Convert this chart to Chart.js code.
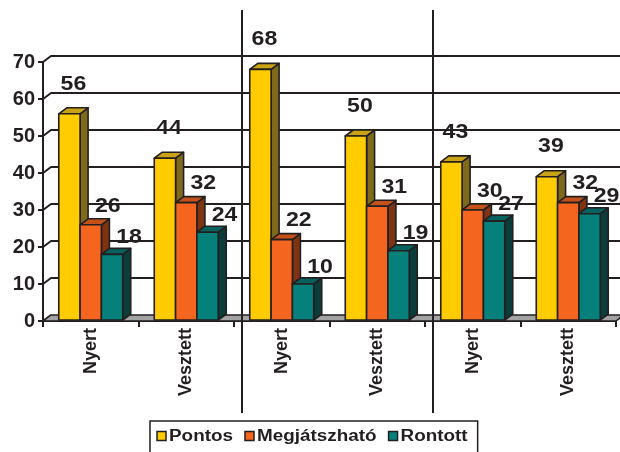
<!DOCTYPE html>
<html><head><meta charset="utf-8">
<script src="https://cdn.jsdelivr.net/npm/chart.js@4/dist/chart.umd.min.js"></script>
<style>html,body{margin:0;padding:0;background:#fff}canvas{display:block}</style>
</head><body>
<canvas id="c" width="620" height="452"></canvas>
<script>
// ---- data ----
const categories = ['Nyert', 'Vesztett', 'Nyert', 'Vesztett', 'Nyert', 'Vesztett'];
const seriesNames = ['Pontos', 'Megjátszható', 'Rontott'];
const pontos = [56, 44, 68, 50, 43, 39];
const megjatszhato = [26, 32, 22, 31, 30, 32];
const rontott = [18, 24, 10, 19, 27, 29];
const yTicks = [0, 10, 20, 30, 40, 50, 60, 70];
const groupBreaks = [2, 4]; // a separator line sits before these category indexes

// ---- styles ----
const FONT = '"Liberation Sans", Arial, sans-serif';
const INK = '#231f20';
const DEPTH = { dx: 8, dy: 6 };
const faces = [
  { front: '#FFCC00', top: '#C9A216', side: '#7F6A1C' },
  { front: '#F4661F', top: '#C4511A', side: '#7E3312' },
  { front: '#06807B', top: '#05625E', side: '#0B3D3B' }
];
const labelShift = [{ dx: 4, dy: -30 }, { dx: 17, dy: -19 }, { dx: 17, dy: -17 }];

function poly(ctx, pts, fill) {
  ctx.beginPath();
  ctx.moveTo(pts[0][0], pts[0][1]);
  for (let i = 1; i < pts.length; i++) ctx.lineTo(pts[i][0], pts[i][1]);
  ctx.closePath();
  ctx.fillStyle = fill;
  ctx.fill();
  ctx.stroke();
}

const threeD = {
  id: 'threeD',
  beforeDatasetsDraw(chart) {
    const ctx = chart.ctx, ca = chart.chartArea, ys = chart.scales.y;
    const { dx, dy } = DEPTH;
    ctx.save();
    ctx.strokeStyle = INK;
    ctx.lineWidth = 2;
    ctx.lineJoin = 'round';
    yTicks.forEach(v => {
      const py = ys.getPixelForValue(v);
      ctx.beginPath();
      ctx.moveTo(ca.left, py);
      ctx.lineTo(ca.left + dx, py - dy);
      if (v > 0) ctx.lineTo(chart.width + 5, py - dy);
      ctx.stroke();
    });
    const b = ys.getPixelForValue(0);
    ctx.lineWidth = 1.5;
    poly(ctx, [[ca.left, b], [ca.right, b], [ca.right + dx, b - dy], [ca.left + dx, b - dy]], '#A3A3A3');
    ctx.restore();
  },
  afterDatasetsDraw(chart) {
    const ctx = chart.ctx;
    const { dx, dy } = DEPTH;
    const metas = chart.data.datasets.map((d, i) => chart.getDatasetMeta(i));
    ctx.save();
    ctx.strokeStyle = INK;
    ctx.lineWidth = 1.6;
    ctx.lineJoin = 'round';
    for (let i = 0; i < categories.length; i++) {
      metas.forEach((m, di) => {
        const el = m.data[i];
        const p = el.getProps(['x', 'y', 'base', 'width'], true);
        const l = p.x - p.width / 2, r = p.x + p.width / 2, t = p.y, b = p.base;
        const f = faces[di];
        poly(ctx, [[r, b], [r + dx, b - dy], [r + dx, t - dy], [r, t]], f.side);
        poly(ctx, [[l, t], [r, t], [r + dx, t - dy], [l + dx, t - dy]], f.top);
        poly(ctx, [[l, t], [r, t], [r, b], [l, b]], f.front);
      });
    }
    // value labels
    ctx.fillStyle = INK;
    ctx.font = 'bold 21px ' + FONT;
    ctx.textAlign = 'center';
    ctx.textBaseline = 'middle';
    metas.forEach((m, di) => {
      const vals = chart.data.datasets[di].data;
      m.data.forEach((el, i) => {
        const p = el.getProps(['x', 'y'], true);
        ctx.save();
        ctx.translate(p.x + labelShift[di].dx, p.y + labelShift[di].dy);
        ctx.scale(1.1, 1);
        ctx.fillText(String(vals[i]), 0, 0);
        ctx.restore();
      });
    });
    ctx.restore();
  },
  afterDraw(chart) {
    const ctx = chart.ctx, xs = chart.scales.x;
    const { dx } = DEPTH;
    ctx.save();
    ctx.strokeStyle = INK;
    ctx.lineWidth = 2;
    groupBreaks.forEach(k => {
      const px = (xs.getPixelForValue(k - 1) + xs.getPixelForValue(k)) / 2 + dx;
      ctx.beginPath();
      ctx.moveTo(px, 10);
      ctx.lineTo(px, 413);
      ctx.stroke();
    });
    // legend
    const sx = 1.18, sw = 9, gapS = 3, gapI = 12, padL = 7, padR = 10;
    ctx.font = 'bold 16px ' + FONT;
    const widths = seriesNames.map(n => ctx.measureText(n).width * sx);
    let total = padL + padR;
    widths.forEach((w, i) => { total += sw + gapS + w + (i < widths.length - 1 ? gapI : 0); });
    const left = Math.round(chart.width / 2 + 4 - total / 2);
    const top = 421, cy = 436;
    ctx.lineWidth = 1.5;
    ctx.strokeRect(left, top, total, 40);
    let x = left + padL;
    ctx.textBaseline = 'middle';
    ctx.textAlign = 'left';
    seriesNames.forEach((n, i) => {
      ctx.fillStyle = faces[i].front;
      ctx.fillRect(x, cy - 4.5, sw, sw);
      ctx.strokeRect(x, cy - 4.5, sw, sw);
      x += sw + gapS;
      ctx.save();
      ctx.translate(x, cy);
      ctx.scale(sx, 1);
      ctx.fillStyle = INK;
      ctx.fillText(n, 0, 1);
      ctx.restore();
      x += widths[i] + gapI;
    });
    ctx.restore();
  }
};

const seriesData = [pontos, megjatszhato, rontott];
new Chart(document.getElementById('c'), {
  type: 'bar',
  data: {
    labels: categories,
    datasets: seriesNames.map((n, i) => ({
      label: n,
      data: seriesData[i],
      backgroundColor: faces[i].front,
      borderColor: INK,
      borderWidth: 2,
      categoryPercentage: 0.67,
      barPercentage: 1
    }))
  },
  options: {
    responsive: false,
    animation: false,
    layout: { padding: { top: 62, right: 4, left: 0, bottom: 0 } },
    plugins: { legend: { display: false }, tooltip: { enabled: false } },
    scales: {
      x: {
        grid: { display: true, drawOnChartArea: false, offset: true, tickLength: 6, color: INK, lineWidth: 2 },
        border: { display: true, color: INK, width: 2 },
        ticks: { maxRotation: 90, minRotation: 90, autoSkip: false, padding: 1, color: INK,
                 font: { family: FONT, size: 18, weight: 'bold' } },
        afterFit(s) { s.height = 131; }
      },
      y: {
        min: 0, max: 70,
        afterBuildTicks(s) { s.ticks = yTicks.map(v => ({ value: v })); },
        grid: { drawOnChartArea: false, tickLength: 5, color: INK, lineWidth: 2 },
        border: { display: true, color: INK, width: 2 },
        ticks: { padding: 3, color: INK, font: { family: FONT, size: 20, weight: 'bold' } },
        afterFit(s) { s.width = 43; }
      }
    }
  },
  plugins: [threeD]
});
</script>
</body></html>
